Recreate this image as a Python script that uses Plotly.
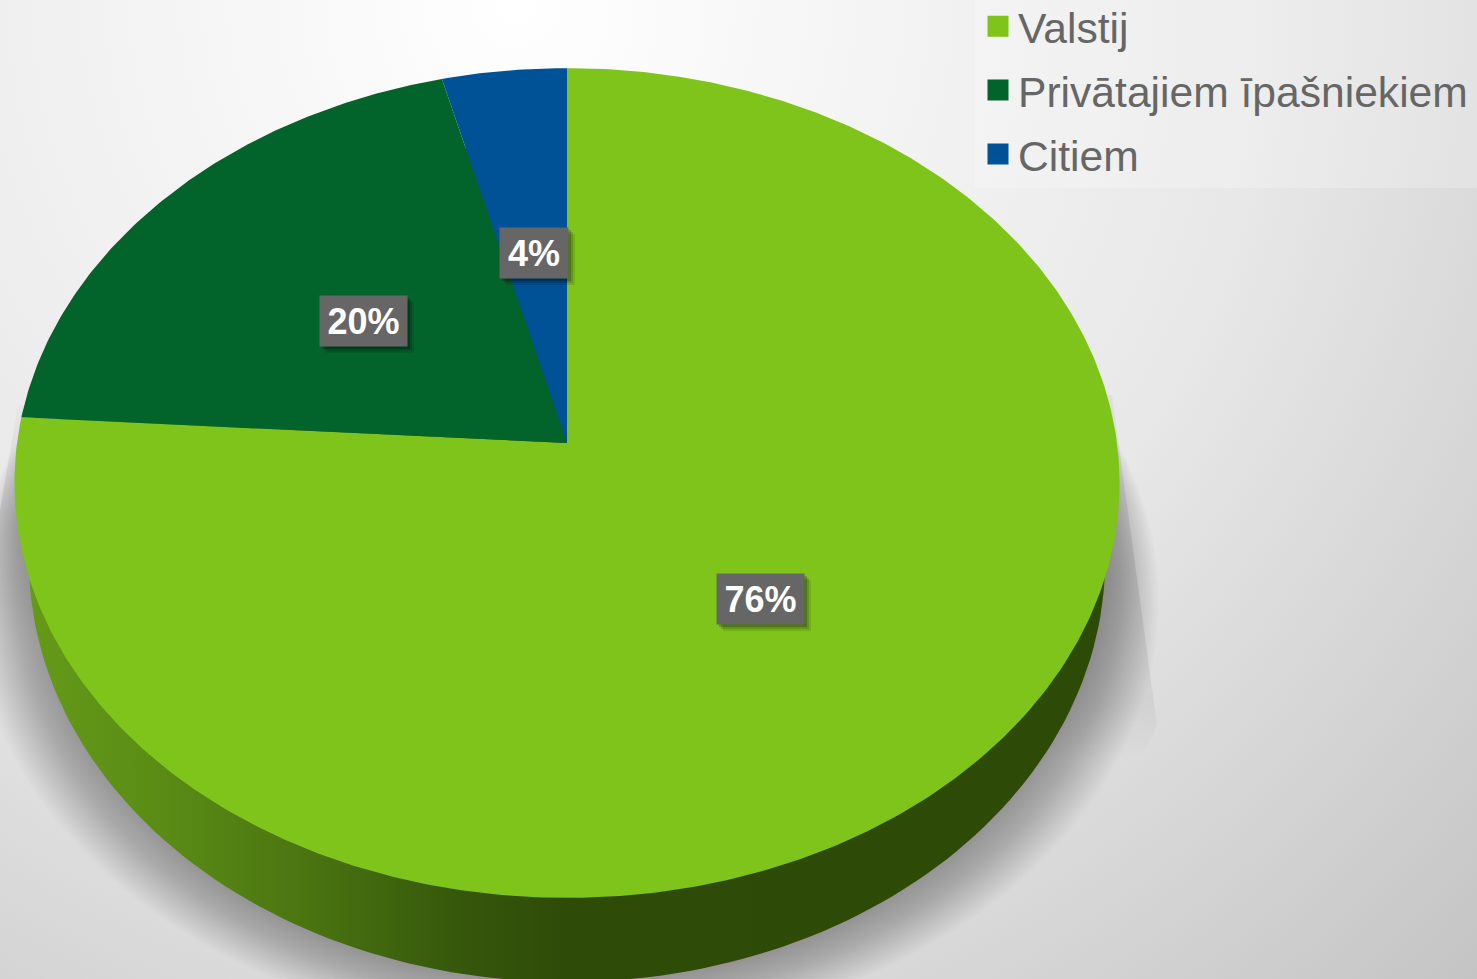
import numpy as np
import plotly.graph_objects as go

categories = ["Valstij", "Privātajiem īpašniekiem", "Citiem"]
shares = [76, 20, 4]
slice_colors = ["#7FC41A", "#03642B", "#005297"]

# label box centres / sizes on the pixel-like axes
label_cx = [760.5, 363.5, 534]
label_cy = [599, 321, 253]
label_w = [87, 87, 68]
label_h = [50, 50, 50]

W, H = 1477, 979
TOP = 8                # figure extends this far above the page so the legend sits flush
CX, CY = 567, 443      # pie apex
A, B, K = 411, 550, 0.0964   # perspective of the tilted disc


def project(theta):
    u, v = np.sin(theta), np.cos(theta)
    d = 1 + K * v
    return CX + B * u / d, CY - A * v / d


def ellipse(cx, cy, rx, ry, n=240):
    t = np.linspace(0, 2 * np.pi, n)
    return cx + rx * np.cos(t), cy + ry * np.sin(t)


def path(xs, ys):
    return "M" + " L".join(f"{x:.1f},{y:.1f}" for x, y in zip(xs, ys)) + " Z"


fig = go.Figure()
shapes = []

# soft cast shadow
for i in range(28):
    ex, ey = ellipse(567, 561 + 1.5 * i, 538 + 2 * i, 421 + 0.5 * i)
    shapes.append(dict(type="path", path=path(ex, ey), fillcolor="rgba(0,0,0,0.0125)",
                       line=dict(width=0), layer="below"))

# sharper shadow flanks
fig.add_trace(go.Scatter(x=[1112, 1157, 1140, 1000, 1000], y=[395, 725, 760, 760, 395], mode="lines",
                         fill="toself", line=dict(width=0), hoverinfo="skip", showlegend=False,
                         fillgradient=dict(type="vertical", start=395, stop=760,
                                           colorscale=[[0, "rgba(0,0,0,0.04)"], [0.5, "rgba(0,0,0,0.10)"],
                                                       [0.85, "rgba(0,0,0,0.05)"], [1, "rgba(0,0,0,0)"]])))
fig.add_trace(go.Scatter(x=[18, 0, 0, 60, 60], y=[405, 510, 640, 640, 405], mode="lines",
                         fill="toself", line=dict(width=0), hoverinfo="skip", showlegend=False,
                         fillgradient=dict(type="vertical", start=405, stop=640,
                                           colorscale=[[0, "rgba(0,0,0,0.02)"], [0.5, "rgba(0,0,0,0.10)"],
                                                       [1, "rgba(0,0,0,0.0)"]])))

# disc side wall
rx, ry = ellipse(567, 561, 538, 421)
fig.add_trace(go.Scatter(x=rx, y=ry, mode="lines", fill="toself", line=dict(width=0),
                         hoverinfo="skip", showlegend=False,
                         fillgradient=dict(type="horizontal", start=20, stop=1110,
                                           colorscale=[[0, "#659B18"], [0.13, "#5A8C15"], [0.25, "#4C7711"],
                                                       [0.4, "#36580B"], [0.5, "#2F4B08"], [1, "#2E4A07"]])))

# slices, clockwise from the top
cum = 0.0
total = sum(shares)
for name, val, col in zip(categories, shares, slice_colors):
    t0 = 2 * np.pi * cum / total
    t1 = 2 * np.pi * (cum + val) / total
    th = np.linspace(t0, t1, max(8, int(val * 6)))
    px, py = project(th)
    fig.add_trace(go.Scatter(x=np.r_[CX, px, CX], y=np.r_[CY, py, CY], mode="lines", fill="toself",
                             fillcolor=col, line=dict(width=0), name=name, legendgroup=name,
                             showlegend=False, hovertemplate=f"{name}: {val}%<extra></extra>"))
    cum += val

# legend keys
for name, col in zip(categories, slice_colors):
    fig.add_trace(go.Scatter(x=[None], y=[None], mode="markers", name=name, legendgroup=name,
                             marker=dict(symbol="square", size=16, color=col, line=dict(width=5, color=col))))

# legend panel
shapes.append(dict(type="rect", x0=975, x1=W, y0=-TOP, y1=188, fillcolor="rgba(255,255,255,0.22)",
                   line=dict(width=0), layer="below"))

annotations = []
for val, x, y, w, h in zip(shares, label_cx, label_cy, label_w, label_h):
    for off, al in ((7, 0.10), (5, 0.14), (3, 0.2)):
        shapes.append(dict(type="rect", x0=x - w / 2 + off - 1, x1=x + w / 2 + off, y0=y - h / 2 + off - 1,
                           y1=y + h / 2 + off, fillcolor=f"rgba(0,0,0,{al})", line=dict(width=0), layer="above"))
    annotations.append(dict(x=x, y=y, xref="x", yref="y", text=f"<b>{val}%</b>", showarrow=False,
                            width=w, height=h, bgcolor="#666666", borderpad=0, valign="middle",
                            font=dict(family="Liberation Sans", size=36, color="white")))

fig.update_layout(
    width=W, height=H + TOP, margin=dict(l=0, r=0, t=0, b=0), autosize=False,
    paper_bgcolor="rgba(0,0,0,0)", plot_bgcolor="rgba(0,0,0,0)",
    xaxis=dict(range=[0, W], visible=False, fixedrange=True),
    yaxis=dict(range=[H, -TOP], visible=False, fixedrange=True),
    shapes=shapes, annotations=annotations, showlegend=True,
    legend=dict(x=978 / W, xanchor="left", y=1, yanchor="top", bgcolor="rgba(0,0,0,0)",
                font=dict(family="Liberation Sans", size=42.6, color="#666666"),
                tracegroupgap=5.5, traceorder="grouped"),
)

post = """
document.documentElement.style.margin='0';
document.body.style.margin='0';
document.body.style.background='radial-gradient(ellipse farthest-corner at 35% 0%, #ffffff 0%, #e8e8e8 55%, #c4c4c4 100%)';
document.body.style.height='979px';
document.body.style.overflow='hidden';
var g=document.querySelector('.plotly-graph-div');
g.style.position='absolute';g.style.top='-8px';g.style.left='0';
"""
fig.write_html("out.html", post_script=post, config=dict(displayModeBar=False))
